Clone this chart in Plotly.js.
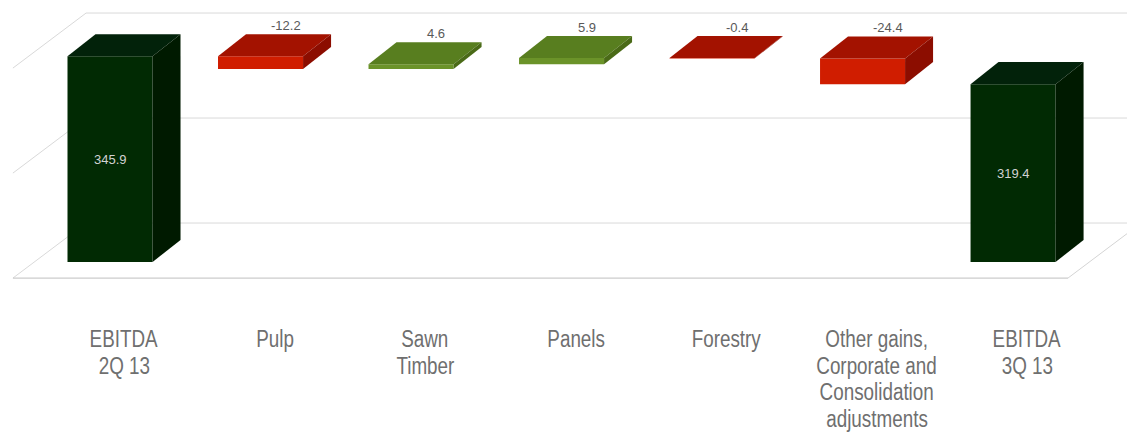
<!DOCTYPE html>
<html>
<head>
<meta charset="utf-8">
<script src="https://cdn.plot.ly/plotly-3.0.1.min.js"></script>
<style>html,body{margin:0;padding:0;background:#fff}#chart{width:1127px;height:433px}</style>
</head>
<body>
<div id="chart"></div>
<script>
// ---- data ----
const categories = ['EBITDA<br>2Q 13', 'Pulp', 'Sawn<br>Timber', 'Panels', 'Forestry',
  'Other gains,<br>Corporate and<br>Consolidation<br>adjustments', 'EBITDA<br>3Q 13'];
const values = [345.9, -12.2, 4.6, 5.9, -0.4, -24.4, 319.4];
const measures = ['total', 'relative', 'relative', 'relative', 'relative', 'relative', 'total'];
const gridValues = [150, 250, 350];

// ---- styling constants ----
const W = 0.565;      // front face width (category units)
const DX = 0.186;     // depth offset in x (category units)
const DV = 21;        // depth offset in value units
const palette = {
  total:    {front: '#012a03', top: '#02220a', side: '#001a00'},
  increase: {front: '#6b9329', top: '#587e1f', side: '#4a6a17'},
  decrease: {front: '#d01d00', top: '#a31200', side: '#8c0d00'}
};
const LABEL_FONT = 'Liberation Sans, Arial, sans-serif';
const LABEL_SIZE = 23, LABEL_SQUEEZE = 0.82, LABEL_TOP = 49, LABEL_LINE = 26.5;

// running totals
const bases = [], tops = [], kinds = [];
let run = 0;
values.forEach((v, i) => {
  let lo, hi, kind;
  if (measures[i] === 'total') { lo = gridValues[0]; hi = v; run = v; kind = 'total'; }
  else { const s = run, e = run + v; lo = Math.min(s, e); hi = Math.max(s, e); run = e; kind = v >= 0 ? 'increase' : 'decrease'; }
  bases.push(lo); tops.push(hi); kinds.push(kind);
});
const xs = values.map((_, i) => i);
const off = -(W + DX) / 2;
const frontCenter = xs.map(x => x + off + W / 2);

const trace = {
  type: 'bar',
  x: xs,
  y: tops.map((t, i) => t - bases[i]),
  base: bases,
  width: W,
  offset: off,
  marker: {color: kinds.map(k => palette[k].front), line: {width: 0}},
  hoverinfo: 'skip',
  showlegend: false
};

const shapes = [];
// walls / floor
const cornerX = -0.252, leftX = -0.738, backShift = 37.1, floorDepth = 52.4, floorRight = 6.272;
const gridCol = '#d9d9d9';
gridValues.forEach(g => {
  const vb = g + backShift;
  shapes.push({type: 'line', xref: 'x', yref: 'y', x0: cornerX, x1: 7.5, y0: vb, y1: vb, line: {color: gridCol, width: 1}, layer: 'below'});
  shapes.push({type: 'line', xref: 'x', yref: 'y', x0: cornerX, x1: leftX, y0: vb, y1: vb - floorDepth, line: {color: gridCol, width: 1}, layer: 'below'});
});
const floorBack = gridValues[0] + backShift, floorFront = floorBack - floorDepth;
shapes.push({type: 'line', xref: 'x', yref: 'y', x0: leftX, x1: floorRight, y0: floorFront, y1: floorFront, line: {color: '#cccccc', width: 1.2}, layer: 'below'});
shapes.push({type: 'line', xref: 'x', yref: 'y', x0: floorRight, x1: floorRight + (cornerX - leftX), y0: floorFront, y1: floorBack, line: {color: '#d4d4d4', width: 1}, layer: 'below'});

// 3D faces
xs.forEach((x, i) => {
  const x0 = x + off, x1 = x0 + W, lo = bases[i], hi = tops[i], c = palette[kinds[i]];
  shapes.push({type: 'path', xref: 'x', yref: 'y', layer: 'above',
    path: `M${x0},${hi} L${x1},${hi} L${x1 + DX},${hi + DV} L${x0 + DX},${hi + DV} Z`,
    fillcolor: c.top, line: {width: 0}});
  shapes.push({type: 'path', xref: 'x', yref: 'y', layer: 'above',
    path: `M${x1},${lo} L${x1 + DX},${lo + DV} L${x1 + DX},${hi + DV} L${x1},${hi} Z`,
    fillcolor: c.side, line: {width: 0}});
});

// value labels
const annotations = xs.map((x, i) => {
  if (measures[i] === 'total') {
    return {x: frontCenter[i], y: (bases[i] + tops[i]) / 2, xref: 'x', yref: 'y', text: values[i].toFixed(1),
      showarrow: false, font: {family: LABEL_FONT, size: 13, color: '#d2d2d2'}};
  }
  return {x: frontCenter[i] + DX * 0.9, y: tops[i] + DV, xref: 'x', yref: 'y', text: values[i].toFixed(1),
    showarrow: false, yanchor: 'bottom', yshift: -1,
    font: {family: LABEL_FONT, size: 13, color: '#595959'}};
});

// category labels (one annotation per text line)
const labelIdx = [];
categories.forEach((c, i) => {
  c.split('<br>').forEach((line, k) => {
    labelIdx.push(annotations.length);
    annotations.push({x: xs[i], y: 0, xref: 'x', yref: 'paper', text: line, showarrow: false,
      yanchor: 'middle', yshift: -(LABEL_TOP + LABEL_LINE * k), borderpad: 0,
      font: {family: LABEL_FONT, size: LABEL_SIZE, color: '#6f6f6f'}});
  });
});

const layout = {
  width: 1127, height: 433,
  margin: {l: 0, r: 0, t: 0, b: 143},
  paper_bgcolor: '#ffffff', plot_bgcolor: '#ffffff',
  xaxis: {range: [-0.824, 6.664], showticklabels: false, showgrid: false, zeroline: false,
    showline: false, ticks: '', fixedrange: true},
  yaxis: {range: [123.33, 399.52], showgrid: false, zeroline: false, showticklabels: false, showline: false, fixedrange: true},
  shapes: shapes,
  annotations: annotations,
  showlegend: false
};

Plotly.newPlot('chart', [trace], layout, {displayModeBar: false, staticPlot: true}).then(gd => {
  // condense the category label glyphs horizontally (narrow typeface look)
  labelIdx.forEach(idx => {
    const g = gd.querySelector(`.annotation[data-index="${idx}"] text.annotation-text`);
    if (!g) return;
    const b = g.getBBox();
    const cx = b.x + b.width / 2;
    g.setAttribute('transform', `translate(${cx},0) scale(${LABEL_SQUEEZE},1) translate(${-cx},0)`);
  });
});
</script>
</body>
</html>
